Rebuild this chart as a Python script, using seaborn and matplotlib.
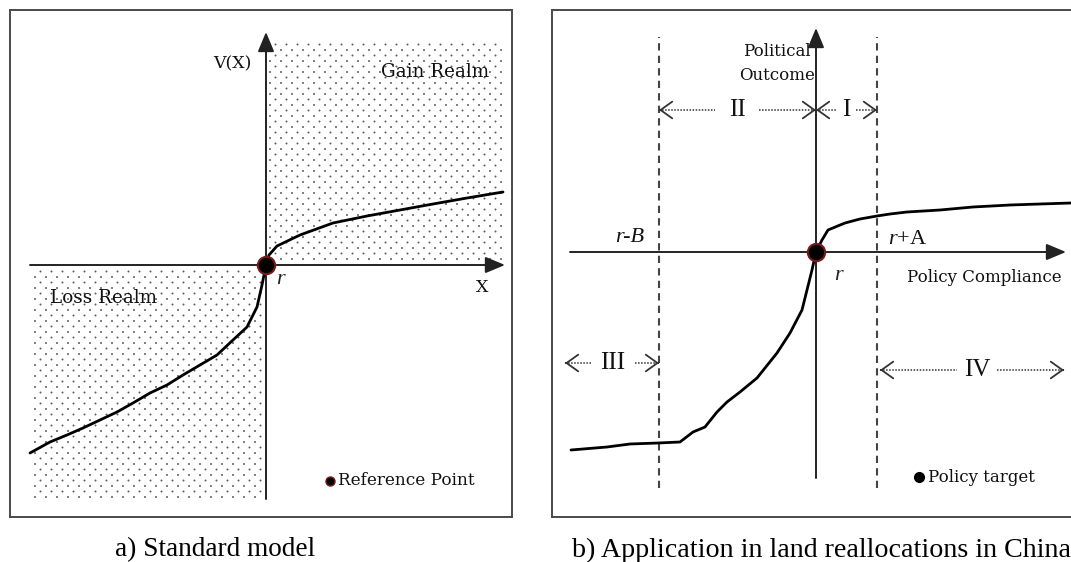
import numpy as np
import pandas as pd
import matplotlib
matplotlib.use("Agg")
import matplotlib.pyplot as plt
import seaborn as sns

# ---------------- data (reference point r at origin) ----------------
# Panel a: standard prospect-theory value function
gain_a_x = [0, 3, 11, 34, 67, 101, 134, 167, 201, 237]
gain_a_y = [0, 10, 19, 30, 42, 49, 55, 61, 67, 73]
loss_a_x = [0, -4, -9, -19, -33, -49, -66, -83, -99, -116, -133, -149, -166, -183, -199, -216, -236]
loss_a_y = [0, -20, -42, -62, -75, -90, -100, -110, -120, -128, -138, -147, -155, -163, -170, -177, -188]

# Panel b: application in land reallocations
gain_b_x = [0, 6, 12, 29, 44, 61, 74, 91, 124, 157, 194, 224, 255]
gain_b_y = [0, 12, 22, 29, 33, 36, 38, 40, 42, 45, 47, 48, 49]
loss_b_x = [0, -4, -9, -14, -26, -39, -59, -76, -89, -99, -111, -123, -136, -158, -186, -209, -245]
loss_b_y = [0, -18, -38, -58, -81, -101, -126, -140, -150, -160, -175, -180, -190, -191, -192, -195, -198]

bounds_b = {"r-B": -157, "r+A": 61}
zone_labels = ["I", "II", "III", "IV"]
captions = ["a) Standard model", "b) Application in land reallocations in China"]

# ---------------- style ----------------
sns.set_theme(style="white")
plt.rcParams["font.family"] = ["DejaVu Serif"]
plt.rcParams["mathtext.fontset"] = "custom"
plt.rcParams["mathtext.it"] = "Liberation Serif:italic"
plt.rcParams["mathtext.rm"] = "Liberation Serif"

W, H = 1071, 562
fig = plt.figure(figsize=(W / 100, H / 100), dpi=100)
fig.patch.set_facecolor("white")

LBL = dict(fontsize=12.5, color="#111111", family="DejaVu Serif")
AX_COL = "#222222"
BOX_COL = "#4a4a4a"


def make_axes(left_px, right_px, top_px, bottom_px, ox, oy):
    ax = fig.add_axes([left_px / W, 1 - bottom_px / H, (right_px - left_px) / W, (bottom_px - top_px) / H])
    ax.set_xlim(left_px - ox, right_px - ox)
    ax.set_ylim(oy - bottom_px, oy - top_px)
    ax.set_xticks([])
    ax.set_yticks([])
    for s in ax.spines.values():
        s.set_color(BOX_COL)
        s.set_linewidth(1.4)
        s.set_visible(True)
    return ax


def axis_arrow(ax, start, end):
    ax.annotate("", xy=end, xytext=start,
                arrowprops=dict(arrowstyle="-|>,head_length=0.6,head_width=0.25",
                                mutation_scale=20, lw=1.4, color=AX_COL,
                                shrinkA=0, shrinkB=0), zorder=3)


def dot_field(ax, x0, x1, y0, y1):
    pts = []
    ys = np.arange(y0, y1, 5.5)
    for i, y in enumerate(ys):
        off = 0 if i % 2 == 0 else 5.5
        for x in np.arange(x0 + off, x1, 11):
            pts.append((x, y))
    df = pd.DataFrame(pts, columns=["x", "y"])
    sns.scatterplot(data=df, x="x", y="y", ax=ax, s=2.0, color="#5a5a5a",
                    edgecolor="none", linewidth=0, zorder=1, legend=False)


def curve(ax, xs, ys):
    df = pd.DataFrame({"x": xs, "y": ys})
    sns.lineplot(data=df, x="x", y="y", ax=ax, sort=False, estimator=None,
                 color="black", lw=2.0, zorder=4)


def dotted_double(ax, x0, x1, y, label, lx, gap):
    ax.plot([x0, lx - gap], [y, y], color="#333333", lw=1.1, ls=(0, (1, 1)), zorder=3)
    ax.plot([lx + gap, x1], [y, y], color="#333333", lw=1.1, ls=(0, (1, 1)), zorder=3)
    hp = dict(arrowstyle="->,head_length=0.42,head_width=0.3", mutation_scale=20,
              lw=1.3, color="#333333", shrinkA=0, shrinkB=0)
    ax.annotate("", xy=(x0, y), xytext=(x0 + 1, y), arrowprops=hp, zorder=3)
    ax.annotate("", xy=(x1, y), xytext=(x1 - 1, y), arrowprops=hp, zorder=3)
    ax.text(lx, y, label, ha="center", va="center", fontsize=18,
            family="Liberation Serif", color="#111111", zorder=5)


# ================= panel a =================
axa = make_axes(10, 512, 10, 517, 266, 265)
dot_field(axa, 4, 238, 6, 222)
dot_field(axa, -231, -5, -232, -6)
axis_arrow(axa, (-236, 0), (239, 0))
axis_arrow(axa, (0, -234), (0, 233))
curve(axa, gain_a_x, gain_a_y)
curve(axa, loss_a_x, loss_a_y)
axa.plot([0], [0], "o", ms=12.5, mfc="black", mec="#7a1a1a", mew=1.5, zorder=6)
axa.text(-34, 201, "V(X)", ha="center", va="center", **LBL)
axa.text(169, 193, "Gain Realm", ha="center", va="center", fontsize=13.2,
         color="#111111", family="DejaVu Serif")
axa.text(-162, -33, "Loss Realm", ha="center", va="center", fontsize=13.2,
         color="#111111", family="DejaVu Serif")
axa.text(10, -15, "r", ha="left", va="center", fontsize=16, style="italic",
         family="Liberation Serif", color="#222222")
axa.text(216, -23, "X", ha="center", va="center", **LBL)
axa.plot([64], [-216], "o", ms=6.5, mfc="black", mec="#7a1a1a", mew=1, zorder=6)
axa.text(72, -216, "Reference Point", ha="left", va="center", fontsize=12.2,
         color="#111111", family="DejaVu Serif")

# ================= panel b =================
axb = make_axes(552, 1090, 10, 517, 816, 252)
axis_arrow(axb, (-246, 0), (250, 0))
axis_arrow(axb, (0, -226), (0, 224))
for xv in bounds_b.values():
    axb.plot([xv, xv], [-236, 215], color="#444444", lw=1.5, ls=(0, (3.5, 2.5)), zorder=2)
curve(axb, gain_b_x, gain_b_y)
curve(axb, loss_b_x, loss_b_y)
axb.plot([0], [0], "o", ms=12.5, mfc="black", mec="#7a1a1a", mew=1.5, zorder=6)

dotted_double(axb, bounds_b["r-B"], 0, 142, zone_labels[1], -79, 22)
dotted_double(axb, 0, bounds_b["r+A"], 142, zone_labels[0], 30, 10)
dotted_double(axb, -251, bounds_b["r-B"], -111, zone_labels[2], -203, 22)
dotted_double(axb, 64, 248, -118, zone_labels[3], 161, 20)

axb.text(-39, 201, "Political", ha="center", va="center", fontsize=12, color="#111111")
axb.text(-39, 176, "Outcome", ha="center", va="center", fontsize=12, color="#111111")
axb.text(-186, 14, "r-B", ha="center", va="center", fontsize=16, style="italic",
         family="Liberation Serif", color="#111111")
axb.text(72, 12, r"$r$+A", ha="left", va="center", fontsize=16,
         family="Liberation Serif", color="#111111")
axb.text(18, -23, "r", ha="left", va="center", fontsize=16, style="italic",
         family="Liberation Serif", color="#222222")
axb.text(91, -26, "Policy Compliance", ha="left", va="center", fontsize=12, color="#111111")
axb.plot([103], [-225], "o", ms=7, mfc="black", mec="black", zorder=6)
axb.text(112, -225, "Policy target", ha="left", va="center", fontsize=12, color="#111111")

# ---------------- captions ----------------
fig.text(215 / W, 1 - 550 / H, captions[0], ha="center", va="center",
         fontsize=19.6, family="Liberation Serif", color="black")
fig.text(822 / W, 1 - 550 / H, captions[1], ha="center", va="center",
         fontsize=20.2, family="Liberation Serif", color="black")

fig.savefig("out.png", dpi=100, facecolor="white")
